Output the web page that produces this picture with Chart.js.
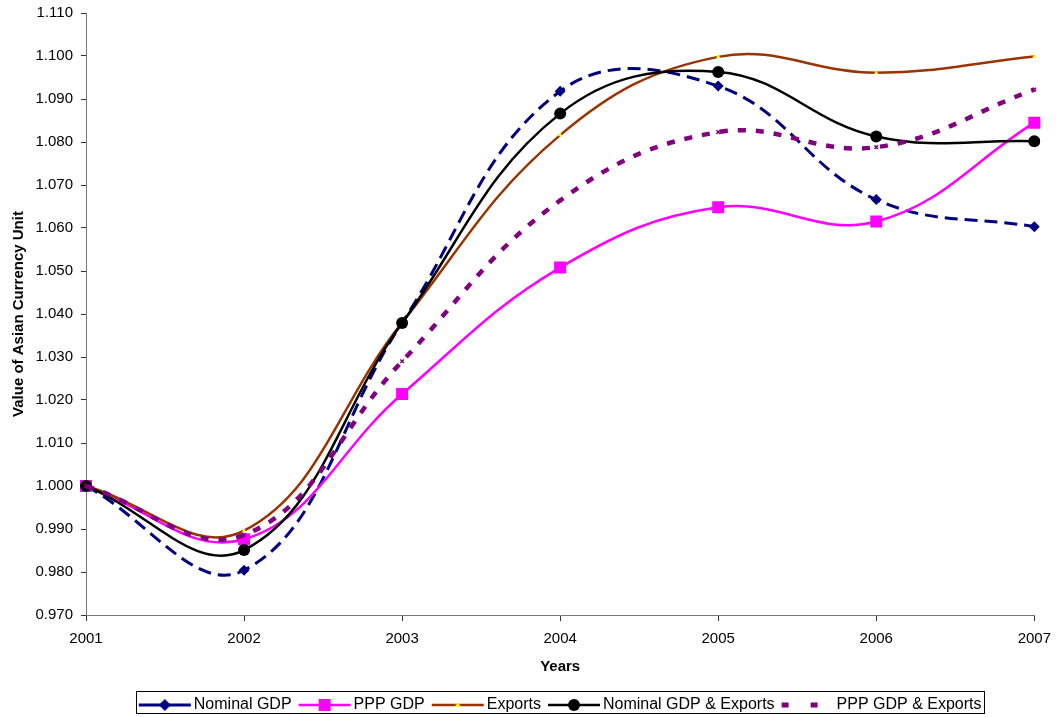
<!DOCTYPE html>
<html>
<head>
<meta charset="utf-8">
<title>Value of Asian Currency Unit</title>
<script src="https://cdn.jsdelivr.net/npm/chart.js@4.4.0/dist/chart.umd.min.js"></script>
<style>
  html, body { margin: 0; padding: 0; background: #fff; }
  canvas { display: block; }
</style>
</head>
<body>
<canvas id="acu_chart" width="1060" height="717"></canvas>
<script>
// values
var years = ['2001', '2002', '2003', '2004', '2005', '2006', '2007'];
var nominalGdp = [1.000, 0.9804, 1.0380, 1.0918, 1.0930, 1.0666, 1.0603];
var pppGdp = [1.000, 0.9876, 1.0214, 1.0508, 1.0648, 1.0615, 1.0845];
var exportsAcu = [1.000, 0.9896, 1.0380, 1.0816, 1.0998, 1.0961, 1.0999];
var nominalGdpExports = [1.000, 0.9851, 1.0379, 1.0866, 1.0963, 1.0813, 1.0802];
var pppGdpExports = [1.000, 0.9886, 1.0290, 1.0664, 1.0823, 1.0788, 1.0922];
var yMin = 0.970, yMax = 1.110, yStep = 0.010;

var fontFamily = '"Liberation Sans", Arial, Helvetica, sans-serif';
Chart.defaults.font.family = fontFamily;
Chart.defaults.color = '#000';

// small canvases used as legend samples (line + marker)
// the line sits in the right part so the text comes close after it
function legendSample(color, lineWidth, dash, marker) {
    var c = document.createElement('canvas');
    c.width = 63; c.height = 16;
    var g = c.getContext('2d');
    var x0 = 8, x1 = 60, mid = 34;
    g.strokeStyle = color;
    g.lineWidth = lineWidth;
    g.setLineDash(dash);
    g.beginPath();
    g.moveTo(x0, 8); g.lineTo(x1, 8);
    g.stroke();
    g.setLineDash([]);
    g.fillStyle = marker ? marker.fill : color;
    if (marker && marker.type === 'diamond') {
        g.beginPath();
        g.moveTo(mid, 2); g.lineTo(mid + 6, 8); g.lineTo(mid, 14); g.lineTo(mid - 6, 8);
        g.closePath(); g.fill();
    } else if (marker && marker.type === 'square') {
        g.fillRect(mid - 6, 2, 12, 12);
    } else if (marker && marker.type === 'circle') {
        g.beginPath(); g.arc(mid, 8, 6, 0, Math.PI * 2); g.fill();
    } else if (marker && marker.type === 'triangle') {
        g.beginPath();
        g.moveTo(mid, 5); g.lineTo(mid + 3, 10); g.lineTo(mid - 3, 10);
        g.closePath(); g.fill();
    }
    return c;
}

var samples = [
    legendSample('#000080', 3, [], {type: 'diamond', fill: '#000080'}),
    legendSample('#FF00FF', 2.5, [], {type: 'square', fill: '#FF00FF'}),
    legendSample('#993300', 2.5, [], {type: 'triangle', fill: '#FFFF00'}),
    legendSample('#000000', 2.5, [], {type: 'circle', fill: '#000000'}),
    legendSample('#800080', 5, [7, 22], null)
];

// centre the legend under the plot, nudge it down and draw a frame round it
var legendFrame = {
    id: 'legendFrame',
    afterLayout: function(chart) {
        var lg = chart.legend;
        var dx = (chart.chartArea.left + chart.chartArea.right) / 2 - (lg.left + lg.right) / 2;
        lg.left += dx;
        lg.right += dx;
        lg.top += 7;
        lg.bottom += 7;
    },
    afterDraw: function(chart) {
        var boxes = chart.legend.legendHitBoxes;
        if (!boxes || !boxes.length) return;
        var minX = Infinity, maxX = -Infinity, top = boxes[0].top, h = boxes[0].height;
        boxes.forEach(function(b) {
            minX = Math.min(minX, b.left);
            maxX = Math.max(maxX, b.left + b.width);
        });
        var ctx = chart.ctx;
        ctx.save();
        ctx.strokeStyle = '#000';
        ctx.lineWidth = 1;
        ctx.strokeRect(Math.round(minX) - 2.5, Math.round(top) - 5.5, Math.round(maxX - minX) + 5, Math.round(h) + 6);
        ctx.restore();
    }
};

var ctx = document.getElementById('acu_chart');
var acuChart = new Chart(ctx, {
    type: 'line',
    data: {
        labels: years,
        datasets: [
            {
                label: 'Nominal GDP',
                data: nominalGdp,
                borderColor: '#000080',
                backgroundColor: '#000080',
                borderWidth: 3,
                borderDash: [13, 7],
                pointStyle: 'rectRot',
                pointRadius: 5.5,
                pointBorderWidth: 0,
                order: 5
            },
            {
                label: 'PPP GDP',
                data: pppGdp,
                borderColor: '#FF00FF',
                backgroundColor: '#FF00FF',
                borderWidth: 2.5,
                pointStyle: 'rect',
                pointRadius: 8.5,
                pointBorderWidth: 0,
                order: 4
            },
            {
                label: 'Exports',
                data: exportsAcu,
                borderColor: '#993300',
                backgroundColor: '#FFFF00',
                borderWidth: 2.5,
                pointStyle: 'triangle',
                pointRadius: 2.5,
                pointBorderWidth: 0,
                order: 3
            },
            {
                label: 'Nominal GDP & Exports',
                data: nominalGdpExports,
                borderColor: '#000000',
                backgroundColor: '#000000',
                borderWidth: 2.5,
                pointStyle: 'circle',
                pointRadius: 6,
                pointBorderWidth: 0,
                order: 2
            },
            {
                label: 'PPP GDP & Exports',
                data: pppGdpExports,
                borderColor: '#800080',
                backgroundColor: '#800080',
                borderWidth: 4.5,
                borderDash: [8, 10],
                pointStyle: 'crossRot',
                pointRadius: 2.5,
                pointBorderWidth: 1.5,
                pointBorderColor: '#800080',
                order: 1
            }
        ]
    },
    options: {
        responsive: false,
        animation: false,
        devicePixelRatio: 1,
        tension: 0.4,
        events: [],
        layout: {
            padding: {top: 13, right: 22, bottom: 1, left: 0}
        },
        plugins: {
            tooltip: {enabled: false},
            legend: {
                position: 'bottom',
                labels: {
                    usePointStyle: true,
                    pointStyleWidth: 47,
                    padding: 7,
                    font: {size: 16},
                    color: '#000',
                    generateLabels: function(chart) {
                        return chart.data.datasets.map(function(ds, i) {
                            return {
                                text: ds.label,
                                pointStyle: samples[i],
                                datasetIndex: i,
                                lineWidth: 0,
                                hidden: false,
                                fontColor: '#000'
                            };
                        });
                    }
                }
            }
        },
        scales: {
            x: {
                type: 'category',
                offset: false,
                grid: {
                    display: true,
                    drawOnChartArea: false,
                    drawTicks: true,
                    tickLength: 6,
                    color: '#333'
                },
                border: {display: true, color: '#777', width: 1},
                ticks: {
                    font: {size: 15},
                    color: '#000',
                    padding: 9,
                    maxRotation: 0,
                    autoSkip: false
                },
                title: {
                    display: true,
                    text: 'Years',
                    font: {size: 15, weight: 'bold'},
                    padding: {top: 0, bottom: 7}
                },
                afterFit: function(scale) { scale.height = 68; }
            },
            y: {
                min: yMin,
                max: yMax,
                grid: {
                    display: true,
                    drawOnChartArea: false,
                    drawTicks: true,
                    tickLength: 5,
                    color: '#333'
                },
                border: {display: true, color: '#777', width: 1},
                ticks: {
                    stepSize: yStep,
                    font: {size: 15},
                    color: '#000',
                    padding: 8,
                    callback: function(value) {
                        return Number(value).toFixed(3);
                    }
                },
                title: {
                    display: true,
                    text: 'Value of Asian Currency Unit',
                    font: {size: 15, weight: 'bold'},
                    padding: {top: 10, bottom: 0}
                },
                afterFit: function(scale) {
                    scale.width = 86;
                    scale.paddingTop = 0;
                    scale.paddingBottom = 0;
                }
            }
        }
    },
    plugins: [legendFrame]
});
</script>
</body>
</html>
